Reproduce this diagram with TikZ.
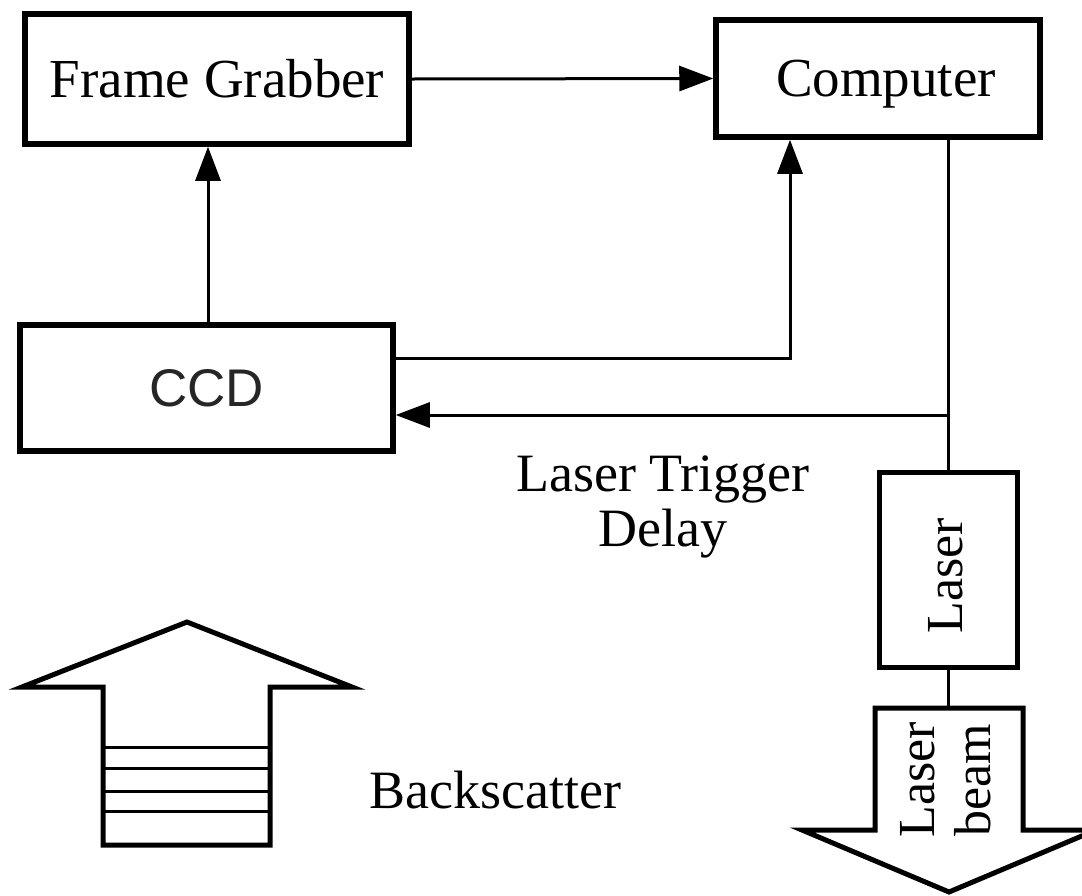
\documentclass[tikz,border=0pt]{standalone}
\usepackage{fontspec}
\setmainfont{Liberation Serif}
\setsansfont{Liberation Sans}
\usetikzlibrary{arrows.meta}
\begin{document}
\begin{tikzpicture}[x=1pt,y=-1pt,
  box/.style={draw, line width=5.5pt, inner sep=0pt, fill=white},
  big/.style={font=\fontsize{55}{56}\selectfont},
  conn/.style={line width=3pt},
  tip/.style={-{Triangle[length=34pt,width=25pt]}},
  fat/.style={line width=5pt, line join=miter},
  stripe/.style={line width=3pt}]
\useasboundingbox (0,0) rectangle (1082,895);
% boxes
\node[box, big, minimum width=384pt, minimum height=130pt] (fg) at (217,79) {Frame Grabber};
\node[box, big, text depth=0pt, minimum width=324pt, minimum height=117pt] (comp) at (878,78.5) {\hspace*{16pt}Computer};
\node[box, font=\sffamily\fontsize{53}{56}\selectfont, text=black!85, minimum width=373pt, minimum height=126pt] (ccd) at (206.5,388) {CCD};
\node[box, line width=5pt, minimum width=138pt, minimum height=195pt] (laser) at (948.5,570) {};
\node[big, rotate=90, font=\fontsize{52}{56}\selectfont] (lasertxt) at (946,576) {Laser};
% helper coordinates
\coordinate (xa) at (208,0);
\coordinate (xb) at (790,358);
\coordinate (jt) at (948.5,415);
\coordinate (beamtop) at (948.5,708);
% connectors
\draw[conn, tip] (fg.east) -- (comp.west);
\draw[conn, tip] (ccd.north -| xa) -- (fg.south -| xa);
\draw[conn, tip] (ccd.east |- xb) -| (comp.south -| xb);
\draw[conn] (comp.south -| laser.north) -- (laser.north);
\draw[conn, tip] (jt) -- (ccd.east |- jt);
\draw[conn] (laser.south) -- (beamtop);
% laser beam arrow
\draw[fat] (875,708) -- (875,830) -- (802,830) -- (949,892) -- (1096,830) -- (1023,830) -- (1023,708) -- cycle;
\node[align=center, rotate=90, font=\fontsize{52}{56}\selectfont] (beamtxt) at (946,780) {Laser\\beam};
% backscatter arrow
\draw[fat] (103,845) -- (103,687) -- (22,687) -- (187,622) -- (352,687) -- (270,687) -- (270,845) -- cycle;
\foreach \yy in {747,768,791,811} \draw[stripe] (103,\yy) -- (270,\yy);
% labels
\node[align=center, font=\fontsize{54}{55}\selectfont] (trig) at (663,507) {Laser Trigger\\Delay};
\node[font=\fontsize{54}{56}\selectfont] (back) at (495,790) {Backscatter};
\end{tikzpicture}
\end{document}
